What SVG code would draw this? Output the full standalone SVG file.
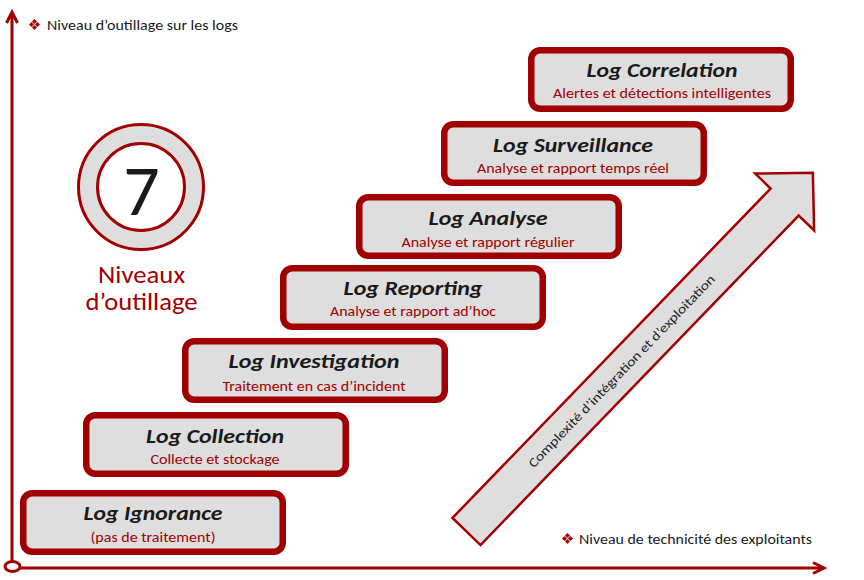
<svg xmlns="http://www.w3.org/2000/svg" width="864" height="580" viewBox="0 0 864 580">
  <style>
    .box rect { fill: #dedede; stroke: #a10000; stroke-width: 6.5; }
    .title { font-family: Carlito, Lato, "Liberation Sans", sans-serif; font-style: italic; font-weight: 700; font-size: 21px; fill: #1a1a1a; text-anchor: middle; }
    .sub { font-family: Carlito, Lato, "Liberation Sans", sans-serif; font-size: 14px; fill: #a10000; text-anchor: middle; }
    .legend { font-family: Carlito, Lato, "Liberation Sans", sans-serif; font-size: 14px; fill: #1a1a1a; }
    .bullet { font-family: "DejaVu Sans", sans-serif; font-size: 15px; fill: #a10000; text-anchor: middle; }
    .axis { stroke: #a10000; stroke-width: 3; fill: none; }
    .red { font-family: Carlito, Lato, "Liberation Sans", sans-serif; font-size: 24px; fill: #a10000; text-anchor: middle; }
  </style>

  <!-- axes -->
  <g id="connectors">
    <line class="axis" x1="12" y1="561" x2="12" y2="13"/>
    <polyline class="axis" points="6.5,23 12,12 17.5,23"/>
    <line class="axis" x1="20" y1="568" x2="824" y2="568"/>
    <polyline class="axis" points="813,562.5 824,568 813,573.5"/>
    <ellipse cx="12.5" cy="566.5" rx="7.5" ry="5" fill="#ffffff" stroke="#a10000" stroke-width="3"/>
  </g>

  <!-- axis legends -->
  <g id="legend-y">
    <text class="bullet" x="34.5" y="29.5">❖</text>
    <text class="legend" x="47" y="30" textLength="191" lengthAdjust="spacingAndGlyphs">Niveau d’outillage sur les logs</text>
  </g>
  <g id="legend-x">
    <text class="bullet" x="567.5" y="544">❖</text>
    <text class="legend" x="579" y="544" textLength="233" lengthAdjust="spacingAndGlyphs">Niveau de technicité des exploitants</text>
  </g>

  <!-- badge: 7 levels -->
  <g id="badge">
    <circle cx="141" cy="187" r="62.5" fill="#dedede" stroke="#a10000" stroke-width="3"/>
    <circle cx="141" cy="187" r="43.5" fill="#ffffff" stroke="#a10000" stroke-width="3"/>
    <text x="141.5" y="215" font-family="Carlito, Lato, 'Liberation Sans', sans-serif" font-size="72" fill="#1a1a1a" text-anchor="middle">7</text>
    <text class="red" x="141.5" y="283" textLength="87" lengthAdjust="spacingAndGlyphs">Niveaux</text>
    <text class="red" x="141.5" y="310" textLength="112" lengthAdjust="spacingAndGlyphs">d’outillage</text>
  </g>

  <!-- level boxes -->
  <g id="log-ignorance" class="box">
    <rect x="23.25" y="493.25" width="259.5" height="58.5" rx="9"/>
    <text class="title" x="153" y="520" textLength="139" lengthAdjust="spacingAndGlyphs">Log Ignorance</text>
    <text class="sub" x="153" y="542" textLength="125" lengthAdjust="spacingAndGlyphs">(pas de traitement)</text>
  </g>
  <g id="log-collection" class="box">
    <rect x="86.25" y="415.25" width="259.5" height="58.5" rx="9"/>
    <text class="title" x="215" y="443" textLength="138" lengthAdjust="spacingAndGlyphs">Log Collection</text>
    <text class="sub" x="215" y="464" textLength="129" lengthAdjust="spacingAndGlyphs">Collecte et stockage</text>
  </g>
  <g id="log-investigation" class="box">
    <rect x="185.25" y="341.25" width="259.5" height="58.5" rx="9"/>
    <text class="title" x="314" y="368" textLength="171" lengthAdjust="spacingAndGlyphs">Log Investigation</text>
    <text class="sub" x="314" y="391" textLength="183" lengthAdjust="spacingAndGlyphs">Traitement en cas d’incident</text>
  </g>
  <g id="log-reporting" class="box">
    <rect x="283.25" y="268.25" width="259.5" height="58.5" rx="9"/>
    <text class="title" x="413" y="295" textLength="139" lengthAdjust="spacingAndGlyphs">Log Reporting</text>
    <text class="sub" x="413" y="316" textLength="166" lengthAdjust="spacingAndGlyphs">Analyse et rapport ad’hoc</text>
  </g>
  <g id="log-analyse" class="box">
    <rect x="359.25" y="197.25" width="259.5" height="58.5" rx="9"/>
    <text class="title" x="488" y="225" textLength="119" lengthAdjust="spacingAndGlyphs">Log Analyse</text>
    <text class="sub" x="488" y="247" textLength="173" lengthAdjust="spacingAndGlyphs">Analyse et rapport régulier</text>
  </g>
  <g id="log-surveillance" class="box">
    <rect x="444.25" y="124.25" width="259.5" height="58.5" rx="9"/>
    <text class="title" x="573" y="152" textLength="160" lengthAdjust="spacingAndGlyphs">Log Surveillance</text>
    <text class="sub" x="573" y="173" textLength="192" lengthAdjust="spacingAndGlyphs">Analyse et rapport temps réel</text>
  </g>
  <g id="log-correlation" class="box">
    <rect x="531.25" y="50.25" width="259.5" height="58.5" rx="9"/>
    <text class="title" x="662" y="77" textLength="151" lengthAdjust="spacingAndGlyphs">Log Correlation</text>
    <text class="sub" x="662" y="98" textLength="218" lengthAdjust="spacingAndGlyphs">Alertes et détections intelligentes</text>
  </g>

  <!-- diagonal complexity arrow -->
  <g id="complexity-arrow" transform="translate(466.5,531.5) rotate(-46)">
    <polygon points="0,-19.5 458,-19.5 458,-41 498.6,0 458,41 458,19.5 0,19.5" fill="#dedede" stroke="#a10000" stroke-width="2.5" stroke-linejoin="miter"/>
    <text x="223" y="4.5" font-family="Carlito, Lato, 'Liberation Sans', sans-serif" font-size="13" fill="#222222" text-anchor="middle" textLength="262" lengthAdjust="spacingAndGlyphs">Complexité d’intégration et d’exploitation</text>
  </g>
</svg>
